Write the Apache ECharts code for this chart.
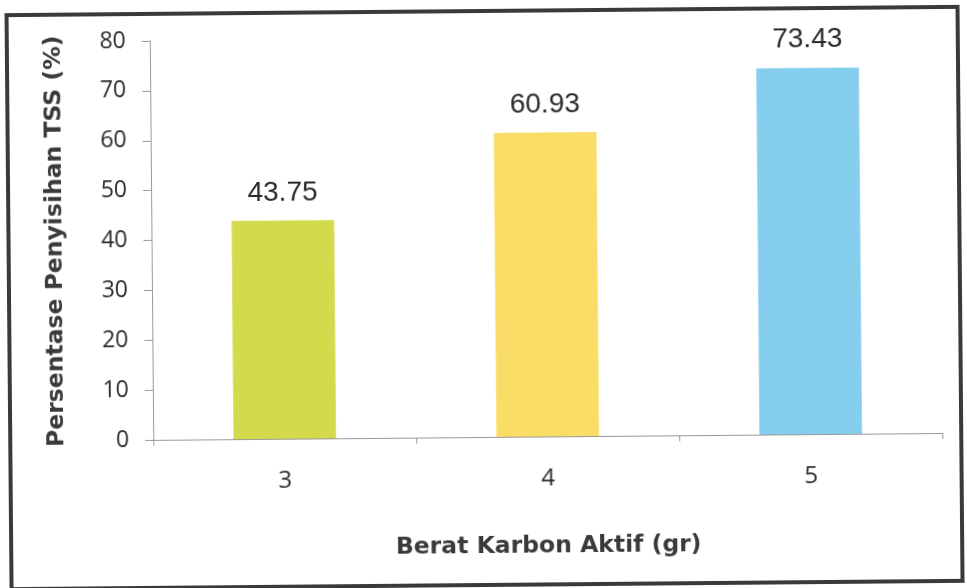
<!DOCTYPE html>
<html>
<head>
<meta charset="utf-8">
<title>Persentase Penyisihan TSS</title>
<script src="https://cdn.jsdelivr.net/npm/echarts@6/dist/echarts.min.js"></script>
<style>
  html, body { margin: 0; padding: 0; background: #ffffff; overflow: hidden; }
  #chart { width: 967px; height: 588px; transform: rotate(-0.5deg); transform-origin: 50% 50%; }
</style>
</head>
<body>
<div id="chart"></div>
<script>
// Berat karbon aktif (gr) and TSS removal percentage
const categories = ['3', '4', '5'];
const removal = [43.75, 60.93, 73.43];
const barColors = ['#D3DA4C', '#FADD66', '#86CEEE'];
const yTicks = { min: 0, max: 80, interval: 10 };

const chart = echarts.init(document.getElementById('chart'), null, { renderer: 'canvas' });

chart.setOption({
  backgroundColor: '#ffffff',
  animation: false,
  graphic: [{
    type: 'rect',
    shape: { x: 9, y: 11, width: 951, height: 574 },
    style: { fill: 'none', stroke: '#3a3a3a', lineWidth: 4 },
    z: 100
  }],
  grid: { left: 152, right: 26, top: 38, bottom: 151 },
  xAxis: {
    type: 'category',
    data: categories,
    name: 'Berat Karbon Aktif (gr)',
    nameLocation: 'middle',
    nameGap: 98,
    nameTextStyle: { fontFamily: 'DejaVu Sans', fontWeight: 'bold', fontSize: 23.5, color: '#3a3a3a' },
    axisLine: { lineStyle: { color: '#9a9a9a', width: 1 } },
    axisTick: { show: true, length: 6, lineStyle: { color: '#9a9a9a' } },
    axisLabel: { fontFamily: 'Open Sans', fontSize: 24, color: '#2b2b2b', margin: 30 }
  },
  yAxis: {
    type: 'value',
    min: yTicks.min,
    max: yTicks.max,
    interval: yTicks.interval,
    name: 'Persentase Penyisihan TSS (%)',
    nameLocation: 'middle',
    nameGap: 84,
    nameTextStyle: { fontFamily: 'DejaVu Sans', fontWeight: 'bold', fontSize: 23.5, color: '#3a3a3a' },
    axisLine: { show: true, lineStyle: { color: '#9a9a9a', width: 1 } },
    axisTick: { show: true, length: 8, lineStyle: { color: '#9a9a9a' } },
    axisLabel: { fontFamily: 'Open Sans', fontSize: 23, color: '#2b2b2b', margin: 24 },
    splitLine: { show: false }
  },
  series: [{
    type: 'bar',
    data: removal.map((v, i) => ({ value: v, itemStyle: { color: barColors[i] } })),
    barWidth: '39%',
    label: {
      show: true,
      position: 'top',
      distance: 14,
      fontFamily: 'Liberation Sans',
      fontSize: 28,
      color: '#2a2a2a'
    }
  }]
});
</script>
</body>
</html>
